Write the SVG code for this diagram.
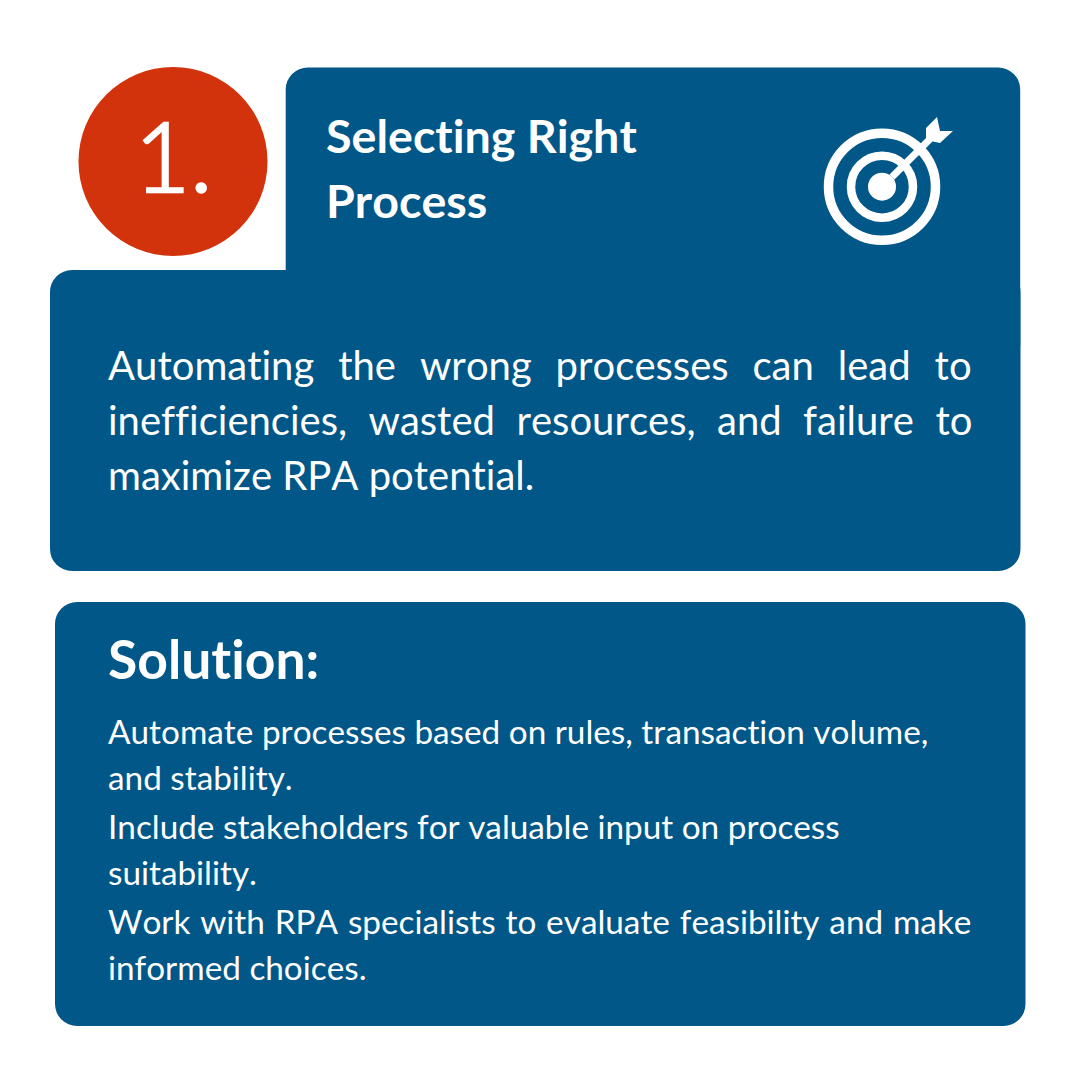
<svg xmlns="http://www.w3.org/2000/svg" width="1080" height="1080" viewBox="0 0 1080 1080">
<style>
.p{fill:#015788}
text{font-family:Lato,"Liberation Sans",sans-serif;fill:#fff;font-variant-ligatures:none;font-kerning:none}
.t{font-size:46.600px;font-weight:700}
.b{font-size:40px}
.s{font-size:33.300px}
.h{font-size:53.400px;font-weight:700}
</style>
<rect width="1080" height="1080" fill="#fff"/>
<g id="header"><rect class="p" x="285.700" y="67.500" width="734.500" height="300" rx="22"/>
<text class="t" x="326" y="153">Selecting Right</text>
<text class="t" x="326" y="218">Process</text></g>
<g id="badge"><circle cx="173" cy="161.500" r="94.500" fill="#d2320c"/><text x="173.500" y="191.500" text-anchor="middle" font-size="96" font-weight="300" stroke="#fff" stroke-width="2.500">1.</text></g>
<g id="icon" fill="none" stroke="#fff"><circle cx="882" cy="186.700" r="53.500" stroke-width="9.500"/><circle cx="882" cy="186.700" r="31" stroke-width="8.500"/><circle cx="882" cy="186.700" r="14" fill="#fff" stroke="none"/><path d="M892 177L930 139" stroke-width="7"/><path d="M926 128L937 117L940 131L953 131L940 143L926 140Z" fill="#fff" stroke="none"/></g>
<g id="problem"><rect class="p" x="50" y="270" width="970.500" height="301" rx="22"/>
<text class="b" x="108" y="379.500" word-spacing="13.700">Automating the wrong processes can lead to</text>
<text class="b" x="108" y="434.500" word-spacing="11.200">inefficiencies, wasted resources, and failure to</text>
<text class="b" x="108" y="489.500">maximize RPA potential.</text></g>
<g id="solution"><rect class="p" x="55" y="602" width="970.500" height="424" rx="22"/>
<text class="h" x="108" y="679">Solution:</text>
<text class="s" x="108" y="744">Automate processes based on rules, transaction volume,</text>
<text class="s" x="108" y="790">and stability.</text>
<text class="s" x="108" y="839">Include stakeholders for valuable input on process</text>
<text class="s" x="108" y="885">suitability.</text>
<text class="s" x="108" y="934" word-spacing="1.300">Work with RPA specialists to evaluate feasibility and make</text>
<text class="s" x="108" y="980">informed choices.</text></g>
</svg>
